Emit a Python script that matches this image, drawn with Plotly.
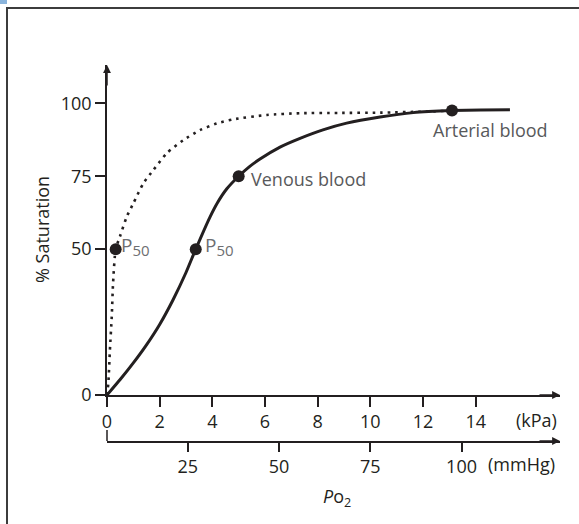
import plotly.graph_objects as go

# ---- data ----
# Normal adult haemoglobin dissociation curve (solid)
hb_kpa = [0, 0.5, 1.0, 1.5, 2.0, 2.5, 3.0, 3.37, 3.91, 4.2, 4.55, 5.0,
          5.4, 5.81, 6.57, 7.33, 8.2, 9.1, 10.37, 11.63, 13.1, 14.2, 15.3]
hb_sat = [0, 5.3, 11.0, 17.2, 24.2, 32.5, 42.0, 50, 61.0, 66.0, 70.7, 75,
          78.2, 80.9, 85.0, 88.0, 90.9, 93.2, 95.3, 96.8, 97.5, 97.7, 97.8]
# Left-shifted curve (dotted)
mb_kpa = [0, 0.05, 0.11, 0.18, 0.23, 0.33, 0.49, 0.75, 1.0, 1.38, 1.76, 2.27, 2.9,
          3.53, 4.17, 4.8, 6.07, 7.33, 8.8, 10.37, 12.27, 13.1]
mb_sat = [0, 4.0, 15.4, 26.8, 38.3, 50, 54.3, 61.1, 65.7, 72.6, 77.1, 82.9, 87.4,
          90.8, 93.1, 94.5, 96.0, 96.6, 96.7, 96.8, 97.2, 97.5]

# marked points
p50_mb = (0.33, 50)
p50_hb = (3.37, 50)
venous = (5.0, 75)
arterial = (13.1, 97.5)

kpa_ticks = [0, 2, 4, 6, 8, 10, 12, 14]
mmhg_ticks = [25, 50, 75, 100]
sat_ticks = [0, 50, 75, 100]

FONT = "Open Sans"
FS = 18
INK = "#231f20"
LABEL = "#58595b"
P50C = "#6d6e71"
P50_TEXT = "P<sub><span style='font-size:15px'>50</span></sub>"

fig = go.Figure()

fig.add_trace(go.Scatter(x=mb_kpa, y=mb_sat, mode="lines",
                         line=dict(color=INK, width=2.6, dash="2.6px,5px", shape="spline",
                                   smoothing=0.6),
                         xaxis="x", yaxis="y", hoverinfo="skip"))
fig.add_trace(go.Scatter(x=hb_kpa, y=hb_sat, mode="lines",
                         line=dict(color=INK, width=3, shape="spline", smoothing=0.5),
                         xaxis="x", yaxis="y", hoverinfo="skip"))
pts = [p50_mb, p50_hb, venous, arterial]
fig.add_trace(go.Scatter(x=[p[0] for p in pts], y=[p[1] for p in pts], mode="markers",
                         marker=dict(color=INK, size=12), cliponaxis=False,
                         xaxis="x", yaxis="y", hoverinfo="skip"))
# invisible trace to activate the mmHg axis
fig.add_trace(go.Scatter(x=[mmhg_ticks[0]], y=[0], mode="markers",
                         marker=dict(opacity=0), xaxis="x2", yaxis="y2", hoverinfo="skip"))

W, H = 579, 524
ML, MR, MT, MB = 107, 19, 65, 83
pw, ph = W - ML - MR, H - MT - MB  # 453 x 376
def px(x):
    return (x - ML) / pw
def py(y):
    return (H - MB - y) / ph

y_dom0 = py(395)
kpa_per_px = 14 / (475.7 - 107)
axis_common = dict(ticks="outside", tickwidth=1.5, tickcolor=INK, showline=True,
                   linecolor=INK, linewidth=1.5, showgrid=False, zeroline=False,
                   tickfont=dict(family=FONT, size=FS, color=INK))
fig.update_layout(
    width=W, height=H,
    margin=dict(l=ML, r=MR, t=MT, b=MB),
    paper_bgcolor="white", plot_bgcolor="white",
    showlegend=False, hovermode=False,
    font=dict(family=FONT, size=FS, color=INK),
    xaxis=dict(domain=[0, 1], anchor="y", range=[0, (560 - 107) * kpa_per_px],
               tickvals=kpa_ticks, ticklen=10, **axis_common),
    yaxis=dict(domain=[y_dom0, 1], anchor="x", range=[0, (395 - 65) / 2.917],
               tickvals=sat_ticks, ticklen=10, **axis_common),
    xaxis2=dict(domain=[0, 1], anchor="y2",
                range=[(107.7 - 97.2) / 3.645, (560 - 97.2) / 3.645],
                tickvals=mmhg_ticks, ticklen=9, **axis_common),
    yaxis2=dict(domain=[0, 0.01], anchor="x2", visible=False, range=[0, 1]),
)

shapes = [
    # outer frame
    dict(type="rect", xref="paper", yref="paper", x0=px(7), x1=px(600), y0=py(540), y1=py(8),
         line=dict(color="#3c3c3c", width=2), fillcolor="rgba(0,0,0,0)", layer="below"),
    # corner tab
    dict(type="rect", xref="paper", yref="paper", x0=px(0), x1=px(7), y0=py(4), y1=py(0),
         line=dict(width=0), fillcolor="#8ab4dc"),
    # start tick of the mmHg axis
    dict(type="line", xref="paper", yref="paper", x0=0, x1=0, y0=0, y1=py(430),
         line=dict(color=INK, width=1.5)),
]
fig.update_layout(shapes=shapes)

ann = []
# arrowheads
for (x, y, ax, ay) in [(0, 1, 0, 22), (1, y_dom0, -22, 0), (1, 0, -22, 0)]:
    ann.append(dict(x=x, y=y, xref="paper", yref="paper", ax=ax, ay=ay, text="",
                    showarrow=True, arrowhead=2, arrowsize=1.05, arrowwidth=1.5,
                    arrowcolor=INK, standoff=0))
def lab(x, y, text, **kw):
    d = dict(x=px(x), y=py(y), xref="paper", yref="paper", text=text, showarrow=False,
             xanchor="center", yanchor="middle", font=dict(family=FONT, size=FS, color=INK))
    d.update(kw)
    return d
ann += [
    lab(536.5, 419.5, "(kPa)"),
    lab(521, 464, "(mmHg)"),
    lab(336.7, 497, "<i>P</i>o<sub>2</sub>"),
    lab(42, 230, "% Saturation", textangle=-90),
    dict(x=p50_mb[0], y=p50_mb[1], xref="x", yref="y", text=P50_TEXT,
         xanchor="left", yanchor="middle", xshift=3, yshift=3, showarrow=False,
         font=dict(family=FONT, size=19, color=P50C)),
    dict(x=p50_hb[0], y=p50_hb[1], xref="x", yref="y", text=P50_TEXT,
         xanchor="left", yanchor="middle", xshift=7, yshift=3, showarrow=False,
         font=dict(family=FONT, size=19, color=P50C)),
    dict(x=venous[0], y=venous[1], xref="x", yref="y", text="Venous blood",
         xanchor="left", yanchor="middle", xshift=10, yshift=-3, showarrow=False,
         font=dict(family=FONT, size=FS, color=LABEL)),
    dict(x=arterial[0], y=arterial[1], xref="x", yref="y", text="Arterial blood",
         xanchor="left", yanchor="top", xshift=-21, yshift=-5, showarrow=False,
         font=dict(family=FONT, size=FS, color=LABEL)),
]
fig.update_layout(annotations=ann)

fig.write_html("out.html", config={"displayModeBar": False},
               post_script="document.body.style.margin='0';document.body.style.overflow='hidden';")
